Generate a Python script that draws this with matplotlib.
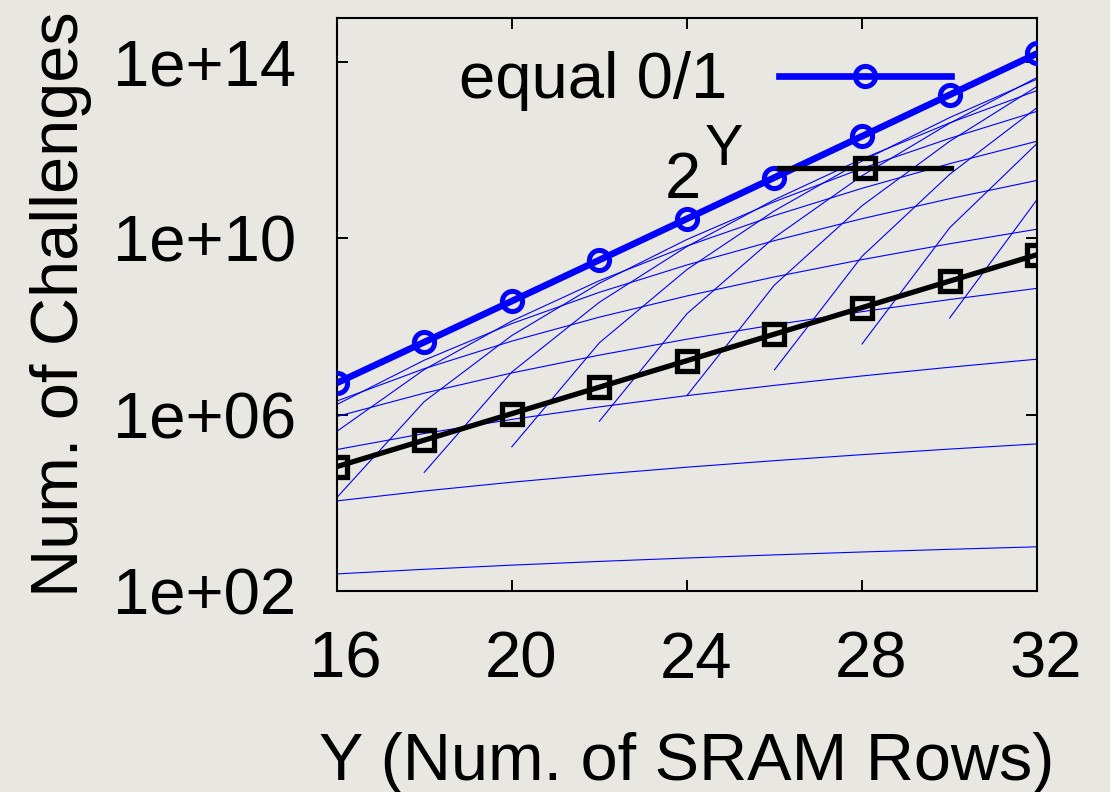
import numpy as np
import matplotlib
matplotlib.use("Agg")
import matplotlib.pyplot as plt
import matplotlib.transforms as mtransforms
from matplotlib.lines import Line2D

# Number of SRAM rows (x axis)
rows = [16, 18, 20, 22, 24, 26, 28, 30, 32]

# Challenges with equal numbers of 0s and 1s (summed over all k)
equal_01 = [5.1966e6, 4.4153e7, 3.7738e8, 3.2411e9, 2.7948e10,
            2.4181e11, 2.0982e12, 1.8252e13, 1.5911e14]

# Plain 2^Y reference
pow2 = [65536, 262144, 1048576, 4194304, 16777216,
        67108864, 268435456, 1073741824, 4294967296]

# Challenges with exactly k ones and k zeros, one curve per k (None = not possible)
k_values = list(range(1, 17))
per_k = [
    [240, 306, 380, 462, 552, 650, 756, 870, 992],
    [1.0920e4, 1.8360e4, 2.9070e4, 4.3890e4, 6.3756e4, 8.9700e4, 1.2285e5, 1.6443e5, 2.1576e5],
    [1.6016e5, 3.7128e5, 7.7520e5, 1.4923e6, 2.6919e6, 4.6046e6, 7.5348e6, 1.1876e7, 1.8124e7],
    [9.0090e5, 3.0631e6, 8.8179e6, 2.2384e7, 5.1483e7, 1.0936e8, 2.1757e8, 4.0970e8, 7.3628e8],
    [2.0180e6, 1.1027e7, 4.6559e7, 1.6295e8, 4.9424e8, 1.3386e9, 3.3070e9, 7.5713e9, 1.6257e10],
    [1.6817e6, 1.7153e7, 1.1640e8, 5.9750e8, 2.4986e9, 8.9237e9, 2.8110e10, 7.9920e10, 2.0863e11],
    [4.1184e5, 1.0502e7, 1.3302e8, 1.0975e9, 6.7310e9, 3.3145e10, 1.3768e11, 4.9909e11, 1.6180e12],
    [1.2870e4, 1.9691e6, 6.2355e7, 9.6027e8, 9.4655e9, 6.8362e10, 3.9153e11, 1.8716e12, 7.7359e12],
    [None, 4.8620e4, 9.2378e6, 3.5566e8, 6.5441e9, 7.5958e10, 6.3805e11, 4.2053e12, 2.2921e13],
    [None, None, 1.8476e5, 4.2679e7, 1.9632e9, 4.2536e10, 5.7424e11, 5.5510e12, 4.1717e13],
    [None, None, None, 7.0543e5, 1.9470e8, 1.0546e10, 2.6576e11, 4.1288e12, 4.5509e13],
    [None, None, None, None, 2.7042e6, 8.7885e8, 5.5368e10, 1.6057e12, 2.8443e13],
    [None, None, None, None, None, 1.0401e7, 3.9314e9, 2.8503e11, 9.4249e12],
    [None, None, None, None, None, None, 4.0117e7, 1.7451e10, 1.4426e12],
    [None, None, None, None, None, None, None, 1.5512e8, 7.6938e10],
    [None, None, None, None, None, None, None, None, 6.0108e8],
]

x_ticks = [16, 20, 24, 28, 32]
y_ticks = [1e2, 1e6, 1e10, 1e14]
y_tick_labels = ["1e+02", "1e+06", "1e+10", "1e+14"]

FONT = "Liberation Sans"
FS = 47
FS_LABEL = 48
BLUE = "#0000ff"
BG = "#e9e7e2"

BLUE_LW, BLUE_MS, BLUE_MEW = 4.8, 14.5, 3.6
BLACK_LW, BLACK_MS, BLACK_MEW = 3.8, 15.0, 3.8

plt.rcParams["font.family"] = [FONT, "DejaVu Sans"]

fig = plt.figure(figsize=(11.1, 7.92), dpi=100, facecolor=BG)
ax = fig.add_axes([0.3033, 0.2542, 0.6311, 0.7227])
ax.set_facecolor(BG)

# thin per-k curves
for vals in per_k:
    y = np.array([np.nan if v is None else v for v in vals], dtype=float)
    ax.plot(rows, y, color=BLUE, lw=0.8, zorder=2)

ax.plot(rows, pow2, color="black", lw=BLACK_LW, marker="s", ms=BLACK_MS,
        mfc="none", mec="black", mew=BLACK_MEW, zorder=4)
ax.plot(rows, equal_01, color=BLUE, lw=BLUE_LW, marker="o", ms=BLUE_MS,
        mfc="none", mec=BLUE, mew=BLUE_MEW, zorder=5)

ax.set_yscale("log")
ax.set_xlim(16, 32)
ax.set_ylim(1e2, 1e15)
ax.set_xticks(x_ticks)
ax.set_xticklabels([str(t) for t in x_ticks])
ax.set_yticks(y_ticks)
ax.set_yticklabels(y_tick_labels)
ax.yaxis.set_minor_locator(matplotlib.ticker.NullLocator())
ax.tick_params(axis="both", which="major", direction="in", length=8, width=1.4,
               top=True, right=True, labelsize=FS, pad=29, colors="black")
for s in ax.spines.values():
    s.set_linewidth(1.5)

# x tick labels sit slightly right of their ticks
shift = mtransforms.ScaledTranslation(9 / 100, 0, fig.dpi_scale_trans)
for lbl in ax.get_xticklabels():
    lbl.set_transform(lbl.get_transform() + shift)

ax.set_xlabel("Y (Num. of SRAM Rows)", fontsize=FS_LABEL)
ax.set_ylabel("Num. of Challenges", fontsize=FS_LABEL)
ax.xaxis.set_label_coords(0.5, -0.2469)
ax.yaxis.set_label_coords(-0.3498, 0.5)

# key
tr = ax.transAxes
key_x = [0.6314, 0.8769]
key_mid = 0.7541
ax.add_line(Line2D(key_x, [0.8997, 0.8997], transform=tr, color=BLUE,
                   lw=BLUE_LW, zorder=6))
ax.add_line(Line2D([key_mid], [0.8997], transform=tr, marker="o", ms=BLUE_MS,
                   mfc="none", mec=BLUE, mew=BLUE_MEW, zorder=6))
ax.add_line(Line2D(key_x, [0.7385, 0.7385], transform=tr, color="black",
                   lw=BLACK_LW, zorder=6))
ax.add_line(Line2D([key_mid], [0.7385], transform=tr, marker="s", ms=BLACK_MS,
                   mfc="none", mec="black", mew=BLACK_MEW, zorder=6))
ax.text(0.5572, 0.8602, "equal 0/1", transform=tr, ha="right", va="baseline",
        fontsize=FS, zorder=6)
ax.text(0.5203, 0.6855, "2", transform=tr, ha="right", va="baseline",
        fontsize=FS, zorder=6)
ax.text(0.5258, 0.7437, "Y", transform=tr, ha="left", va="baseline",
        fontsize=FS * 0.88, zorder=6)

fig.savefig("out.png", dpi=100, facecolor=BG)
